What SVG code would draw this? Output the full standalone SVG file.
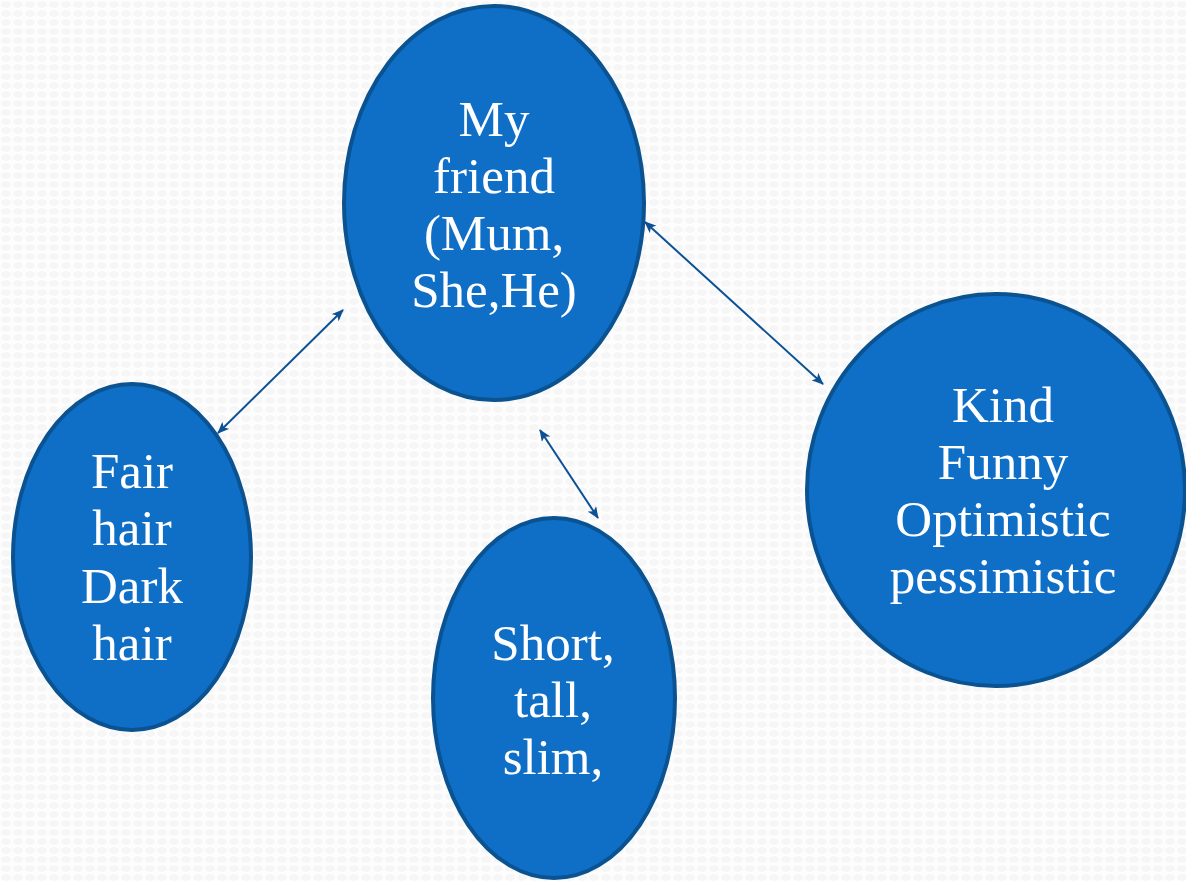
<svg xmlns="http://www.w3.org/2000/svg" width="1186" height="881" viewBox="0 0 1186 881">
<defs>
<pattern id="bg" width="12" height="9" patternUnits="userSpaceOnUse">
<rect width="12" height="9" fill="#fdfdfd"/>
<ellipse cx="6" cy="4.5" rx="5" ry="3.2" fill="#f6f6f6"/>
</pattern>
<marker id="ah" viewBox="0 0 12 10" refX="11" refY="5" markerWidth="12" markerHeight="10" markerUnits="userSpaceOnUse" orient="auto-start-reverse">
<path d="M0,0 L12,5 L0,10 L3,5 Z" fill="#0c5194"/>
</marker>
</defs>
<style>
.node ellipse{fill:#0f6fc6;stroke:#0b5291;stroke-width:4}
.node text{fill:#ffffff;font-family:"Liberation Serif","DejaVu Serif",serif;font-size:51px;text-anchor:middle}
.conn line{stroke:#0c5194;stroke-width:2;marker-start:url(#ah);marker-end:url(#ah)}
</style>
<rect width="1186" height="881" fill="url(#bg)"/>
<g id="connectors" class="conn">
<line x1="218" y1="433" x2="343" y2="310"/>
<line x1="540" y1="430" x2="598" y2="518"/>
<line x1="645" y1="222" x2="823" y2="384"/>
</g>
<g id="node-center" class="node">
<ellipse cx="494" cy="203" rx="150" ry="197"/>
<text x="494" y="136">My</text>
<text x="494" y="193">friend</text>
<text x="494" y="250">(Mum,</text>
<text x="494" y="307">She,He)</text>
</g>
<g id="node-hair" class="node">
<ellipse cx="132" cy="557" rx="119" ry="173"/>
<text x="132" y="488">Fair</text>
<text x="132" y="545">hair</text>
<text x="132" y="603">Dark</text>
<text x="132" y="660">hair</text>
</g>
<g id="node-size" class="node">
<ellipse cx="554" cy="698" rx="121" ry="180"/>
<text x="553" y="660">Short,</text>
<text x="553" y="717">tall,</text>
<text x="553" y="774">slim,</text>
</g>
<g id="node-character" class="node">
<ellipse cx="996" cy="490" rx="189" ry="196"/>
<text x="1003" y="422">Kind</text>
<text x="1003" y="479">Funny</text>
<text x="1003" y="536">Optimistic</text>
<text x="1003" y="593">pessimistic</text>
</g>
</svg>
